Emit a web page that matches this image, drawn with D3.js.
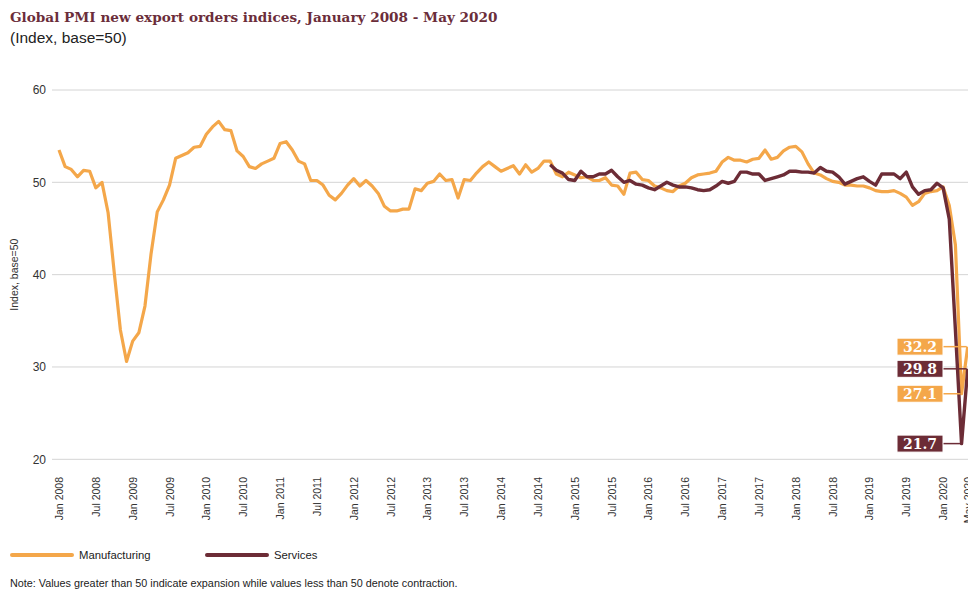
<!DOCTYPE html>
<meta charset="utf-8">
<script src="https://d3js.org/d3.v7.min.js"></script>
<style>
  body { margin: 0; background: #fff; }
  svg { display: block; }
</style>
<svg id="chart" width="968" height="592"></svg>
<script>

// months Jan 2008 .. May 2020
var firstMonth = new Date(2008, 0, 1);
var months = d3.timeMonth.range(firstMonth, new Date(2020, 5, 1));

// Manufacturing new export orders, Jan 2008 - May 2020
var manufacturing = [
  53.5, 51.7, 51.4, 50.6, 51.3, 51.2, 49.4, 50.0, 46.7, 40.2, 34.0, 30.6,
  32.8, 33.7, 36.6, 42.3, 46.8, 48.1, 49.7, 52.6, 52.9, 53.2, 53.8, 53.9,
  55.2, 56.0, 56.6, 55.7, 55.6, 53.4, 52.8, 51.7, 51.5, 52.0, 52.3, 52.6,
  54.2, 54.4, 53.5, 52.3, 52.0, 50.2, 50.2, 49.7, 48.6, 48.1, 48.8, 49.7,
  50.4, 49.6, 50.2, 49.6, 48.8, 47.4, 46.9, 46.9, 47.1, 47.1, 49.3, 49.1,
  49.9, 50.1, 50.9, 50.2, 50.3, 48.3, 50.3, 50.2, 51.0, 51.7, 52.2, 51.7,
  51.2, 51.5, 51.8, 50.9, 51.9, 51.1, 51.5, 52.3, 52.3, 50.9, 50.6, 51.1,
  50.8, 50.5, 50.6, 50.2, 50.2, 50.5, 49.7, 49.6, 48.7, 51.0, 51.1, 50.3,
  50.2, 49.6, 49.4, 49.1, 49.0, 49.6, 49.9, 50.5, 50.8, 50.9, 51.0, 51.2,
  52.2, 52.7, 52.4, 52.4, 52.2, 52.5, 52.6, 53.5, 52.5, 52.7, 53.4, 53.8,
  53.9, 53.3, 52.0, 51.0, 50.8, 50.4, 50.1, 50.0, 49.7, 49.7, 49.6, 49.6,
  49.4, 49.1, 49.0, 49.0, 49.1, 48.8, 48.4, 47.5, 47.9, 48.8, 49.0, 49.1,
  49.5, 47.5, 43.2, 27.1, 32.2
];

// Services new export orders, Sep 2014 - May 2020
var servicesStart = 80; // Sep 2014
var services = [
  51.9, 51.3, 51.0, 50.3,
  50.2, 51.2, 50.6, 50.6, 50.9, 50.9, 51.3, 50.6, 50.0, 50.2, 49.8, 49.7,
  49.4, 49.2, 49.6, 50.0, 49.7, 49.5, 49.5, 49.4, 49.2, 49.1, 49.2, 49.6,
  50.1, 49.9, 50.1, 51.1, 51.1, 50.9, 50.9, 50.2, 50.4, 50.6, 50.8, 51.2,
  51.2, 51.1, 51.1, 51.0, 51.6, 51.2, 51.1, 50.6, 49.8, 50.1, 50.4, 50.6,
  50.1, 49.7, 50.9, 50.9, 50.9, 50.4, 51.1, 49.5, 48.7, 49.1, 49.2, 49.9,
  49.4, 46.0, 34.0, 21.7, 29.8
];

var tickLabels = [
  "Jan 2008", "Jul 2008", "Jan 2009", "Jul 2009", "Jan 2010", "Jul 2010",
  "Jan 2011", "Jul 2011", "Jan 2012", "Jul 2012", "Jan 2013", "Jul 2013",
  "Jan 2014", "Jul 2014", "Jan 2015", "Jul 2015", "Jan 2016", "Jul 2016",
  "Jan 2017", "Jul 2017", "Jan 2018", "Jul 2018", "Jan 2019", "Jul 2019",
  "Jan 2020", "May 2020"
];

var yTicks = [20, 30, 40, 50, 60];

// end-of-series callouts
var callouts = [
  { value: 32.2, month: 148, series: "m" },
  { value: 29.8, month: 148, series: "s" },
  { value: 27.1, month: 147, series: "m" },
  { value: 21.7, month: 147, series: "s" }
];

var orange = "#f4a74a",
    maroon = "#6c2c36";

var svg = d3.select("#chart"),
  width = +svg.attr("width"),
  height = +svg.attr("height");

var fmt = d3.timeFormat("%b %Y");
var monthIndex = function(label) {
  return months.findIndex(function(m) { return fmt(m) === label; });
};

var x = d3.scaleLinear().domain([0, months.length - 1]).range([59, 967.7]);
var y = d3.scaleLinear().domain([20, 60]).range([459.3, 90]);

// title
svg.append("text")
  .attr("x", 10).attr("y", 22)
  .style("font", "bold 13.6px 'DejaVu Serif', serif")
  .attr("fill", "#6b2d3a")
  .text("Global PMI new export orders indices, January 2008 - May 2020");
svg.append("text")
  .attr("x", 10).attr("y", 43)
  .style("font", "15.5px 'Liberation Sans', Arial, sans-serif")
  .attr("fill", "#222")
  .text("(Index, base=50)");

// gridlines + y labels
var grid = svg.append("g");
grid.selectAll("line")
  .data(yTicks)
  .enter().append("line")
    .attr("x1", 52).attr("x2", width)
    .attr("y1", function(d) { return y(d); })
    .attr("y2", function(d) { return y(d); })
    .attr("stroke", "#d4d4d4")
    .attr("stroke-width", 1);
grid.selectAll("text")
  .data(yTicks)
  .enter().append("text")
    .attr("x", 46)
    .attr("y", function(d) { return y(d); })
    .attr("dy", "0.35em")
    .attr("text-anchor", "end")
    .style("font", "12px 'Liberation Sans', Arial, sans-serif")
    .attr("fill", "#333")
    .text(function(d) { return d; });

svg.append("text")
  .attr("transform", "translate(18," + y(40) + ") rotate(-90)")
  .attr("text-anchor", "middle")
  .style("font", "10.5px 'Liberation Sans', Arial, sans-serif")
  .attr("fill", "#333")
  .text("Index, base=50");

// x labels
svg.append("g").selectAll("text")
  .data(tickLabels)
  .enter().append("text")
    .attr("transform", function(d) {
      return "translate(" + (x(monthIndex(d)) + 4) + ",477) rotate(-90)";
    })
    .attr("text-anchor", "end")
    .style("font", "10.5px 'Liberation Sans', Arial, sans-serif")
    .attr("fill", "#333")
    .text(function(d) { return d; });

// lines
var line = d3.line()
  .x(function(d) { return x(d[0]); })
  .y(function(d) { return y(d[1]); });

svg.append("path")
  .datum(manufacturing.map(function(v, i) { return [i, v]; }))
  .attr("d", line)
  .attr("fill", "none")
  .attr("stroke", orange)
  .attr("stroke-width", 3.2)
  .attr("stroke-linejoin", "round");

svg.append("path")
  .datum(services.map(function(v, i) { return [i + servicesStart, v]; }))
  .attr("d", line)
  .attr("fill", "none")
  .attr("stroke", maroon)
  .attr("stroke-width", 3.4)
  .attr("stroke-linejoin", "round");

// callouts
var co = svg.append("g").selectAll("g")
  .data(callouts)
  .enter().append("g");
co.append("line")
  .attr("x1", 942).attr("x2", function(d) { return x(d.month) - 1; })
  .attr("y1", function(d) { return y(d.value); })
  .attr("y2", function(d) { return y(d.value); })
  .attr("stroke", function(d) { return d.series === "m" ? orange : maroon; })
  .attr("stroke-width", 1.5);
co.append("rect")
  .attr("x", 897).attr("width", 46)
  .attr("y", function(d) { return y(d.value) - 8.5; })
  .attr("height", 17)
  .attr("fill", function(d) { return d.series === "m" ? orange : maroon; })
  .attr("stroke", "#fff")
  .attr("stroke-width", 1);
co.append("text")
  .attr("x", 920)
  .attr("y", function(d) { return y(d.value); })
  .attr("dy", "0.36em")
  .attr("text-anchor", "middle")
  .style("font", "bold 14px 'DejaVu Serif', serif")
  .attr("fill", "#fff")
  .text(function(d) { return d.value.toFixed(1); });

// legend
var legend = [{ name: "Manufacturing", color: orange, x: 12 }, { name: "Services", color: maroon, x: 207 }];
var lg = svg.append("g").selectAll("g")
  .data(legend)
  .enter().append("g")
    .attr("transform", function(d) { return "translate(" + d.x + ",555)"; });
lg.append("line")
  .attr("x1", 0).attr("x2", 60)
  .attr("stroke", function(d) { return d.color; })
  .attr("stroke-width", 4)
  .attr("stroke-linecap", "round");
lg.append("text")
  .attr("x", 67).attr("dy", "0.35em")
  .style("font", "11.3px 'Liberation Sans', Arial, sans-serif")
  .attr("fill", "#222")
  .text(function(d) { return d.name; });

svg.append("text")
  .attr("x", 10).attr("y", 587)
  .style("font", "10.8px 'Liberation Sans', Arial, sans-serif")
  .attr("fill", "#222")
  .text("Note: Values greater than 50 indicate expansion while values less than 50 denote contraction.");

</script>
